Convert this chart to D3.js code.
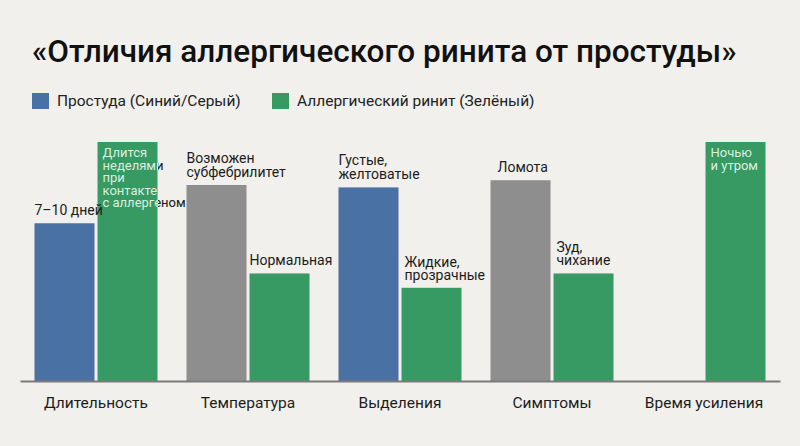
<!DOCTYPE html>
<html>
<head>
<meta charset="utf-8">
<script src="https://cdn.jsdelivr.net/npm/d3@7"></script>
<style>
  body { margin: 0; background: #f1f0ec; }
  svg { display: block; }
</style>
</head>
<body>
<div id="vis-holder"></div>
<script>
// categories on the x axis
let CATEGORIES = ["Длительность", "Температура", "Выделения", "Симптомы", "Время усиления"]

// bar heights (relative units)
let COLD = [66, 82, 81, 84, 0]
let ALLERGY = [100, 45, 39, 45, 100]

// cold bars are blue or grey
let COLD_KIND = ["blue", "grey", "blue", "grey", "blue"]

// text shown over / inside bars
let COLD_LABELS = [["7–10 дней"], ["Возможен", "субфебрилитет"], ["Густые,", "желтоватые"], ["Ломота"], []]
let ALLERGY_LABELS = [["Длится", "неделями", "при", "контакте", "с аллергеном"], ["Нормальная"], ["Жидкие,", "прозрачные"], ["Зуд,", "чихание"], ["Ночью", "и утром"]]
let ALLERGY_INSIDE = [true, false, false, false, true]

let LEGEND = ["Простуда (Синий/Серый)", "Аллергический ринит (Зелёный)"]
let TITLE = "«Отличия аллергического ринита от простуды»"

var colors = {blue: "#4a71a3", grey: "#8e8e8e", green: "#379a62"}
var darkText = "#1c1c1c", lightText = "#dff1e6"

var W = 800, H = 446
var margin = {left: 20, right: 20, top: 142, bottom: 65}
var baseY = H - margin.bottom   // 381

var svg = d3.select("#vis-holder")
  .append("svg")
    .attr("width", W)
    .attr("height", H)

svg.append("rect").attr("width", W).attr("height", H).attr("fill", "#f1f0ec")
var defs = svg.append("defs")

// title
svg.append("text")
  .attr("x", 32)
  .attr("y", 62)
  .attr("font-family", "Roboto, 'Liberation Sans', sans-serif")
  .attr("font-weight", 500)
  .attr("font-size", 31.5)
  .attr("fill", "#111")
  .text(TITLE)

// legend
var legend = svg.append("g")
var legendX = [32, 272]
var legendColors = [colors.blue, colors.green]
LEGEND.forEach((t, i) => {
  legend.append("rect")
    .attr("x", legendX[i]).attr("y", 93)
    .attr("width", 17).attr("height", 16)
    .attr("fill", legendColors[i])
  legend.append("text")
    .attr("x", legendX[i] + 25).attr("y", 106)
    .attr("font-family", "Roboto, sans-serif")
    .attr("font-size", 15.5)
    .attr("fill", "#222")
    .text(t)
})

// scales
var x0 = d3.scaleBand()
  .domain(CATEGORIES)
  .range([margin.left, W - margin.right])

var x1 = d3.scaleBand()
  .domain(["cold", "allergy"])
  .range([0, x0.bandwidth()])
  .paddingInner(0.048)
  .paddingOuter(0.23)

var y = d3.scaleLinear()
  .domain([0, 100])
  .range([baseY, margin.top])

var rows = CATEGORIES.map((c, i) => ({
  cat: c, cold: COLD[i], allergy: ALLERGY[i], kind: COLD_KIND[i],
  coldLabel: COLD_LABELS[i], allergyLabel: ALLERGY_LABELS[i], inside: ALLERGY_INSIDE[i], i: i
}))

var labelFont = "Roboto, 'Liberation Sans', sans-serif"
var labelSize = 14

var groups = svg.append("g")
  .selectAll("g")
  .data(rows)
  .enter()
  .append("g")
    .attr("transform", d => "translate(" + x0(d.cat) + ",0)")

// cold bars
groups.filter(d => d.cold > 0)
  .append("rect")
    .attr("x", x1("cold"))
    .attr("y", d => y(d.cold))
    .attr("width", x1.bandwidth())
    .attr("height", d => baseY - y(d.cold))
    .attr("fill", d => colors[d.kind])

// allergy bars
groups.append("rect")
    .attr("x", x1("allergy"))
    .attr("y", d => y(d.allergy))
    .attr("width", x1.bandwidth())
    .attr("height", d => baseY - y(d.allergy))
    .attr("fill", colors.green)

// text inside a bar is light, and turns dark where it runs past the bar edge
rows.filter(d => d.inside).forEach(d => {
  var left = x0(d.cat) + x1("allergy")
  var right = left + x1.bandwidth()
  var grad = defs.append("linearGradient")
    .attr("id", "txt" + d.i)
    .attr("gradientUnits", "userSpaceOnUse")
    .attr("x1", left).attr("x2", right + 1)
    .attr("y1", 0).attr("y2", 0)
  var cut = (right - left) / (right + 1 - left)
  grad.append("stop").attr("offset", 0).attr("stop-color", lightText)
  grad.append("stop").attr("offset", cut).attr("stop-color", lightText)
  grad.append("stop").attr("offset", cut).attr("stop-color", darkText)
  grad.append("stop").attr("offset", 1).attr("stop-color", darkText)
})

// labels above cold bars
groups.each(function(d) {
  var g = d3.select(this)
  var n = d.coldLabel.length
  d.coldLabel.forEach((t, k) => {
    g.append("text")
      .attr("x", x1("cold") + (d.kind == "grey" && n == 1 ? 7 : 0))
      .attr("y", y(d.cold) - 8 - (n - 1 - k) * 14)
      .attr("font-family", labelFont)
      .attr("font-size", labelSize)
      .attr("fill", darkText)
      .text(t)
  })
})

// labels for allergy bars
groups.each(function(d) {
  var g = d3.select(this)
  var n = d.allergyLabel.length
  if (d.inside) {
    d.allergyLabel.forEach((t, k) => {
      svg.append("text")
        .attr("x", x0(d.cat) + x1("allergy") + 5)
        .attr("y", y(d.allergy) + 15 + k * 12.5)
        .attr("font-family", labelFont).attr("font-size", 13)
        .attr("fill", "url(#txt" + d.i + ")")
        .text(t)
    })
  } else {
    d.allergyLabel.forEach((t, k) => {
      g.append("text")
        .attr("x", x1("allergy") + (n > 1 ? 3 : 0))
        .attr("y", y(d.allergy) - 8 - (n - 1 - k) * 13)
        .attr("font-family", labelFont)
        .attr("font-size", labelSize)
        .attr("fill", darkText)
        .text(t)
    })
  }
})

// x axis
var axis = svg.append("g")
  .attr("transform", "translate(0," + baseY + ")")
  .call(d3.axisBottom(x0).tickSize(0).tickSizeOuter(0).tickPadding(16))

axis.select(".domain")
  .attr("stroke", "#7a7a7a")
  .attr("stroke-width", 2)

axis.selectAll("text")
  .attr("font-family", "Roboto, sans-serif")
  .attr("font-size", 15.5)
  .attr("fill", darkText)
</script>
</body>
</html>
